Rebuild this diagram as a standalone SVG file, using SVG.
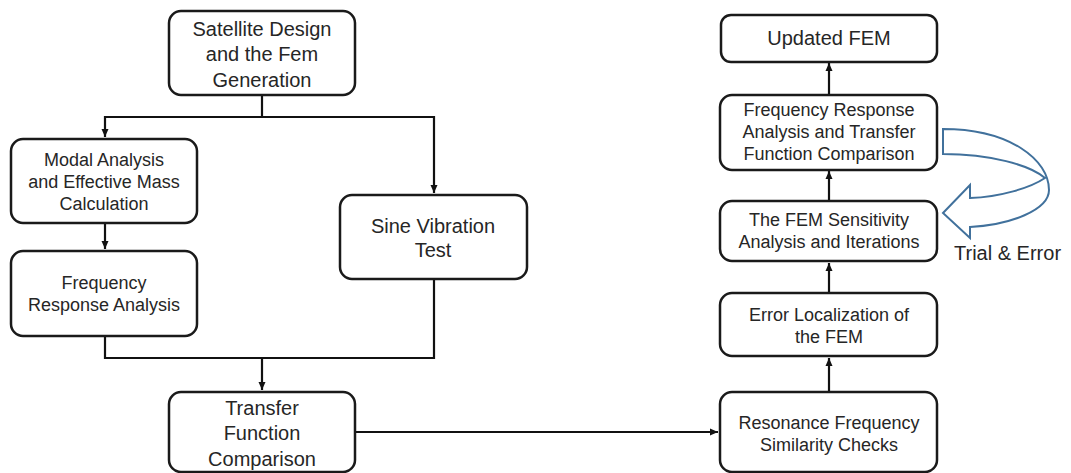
<svg xmlns="http://www.w3.org/2000/svg" width="1071" height="473" viewBox="0 0 1071 473">
<defs>
<marker id="ah" markerUnits="userSpaceOnUse" markerWidth="8" markerHeight="8" refX="8" refY="4" orient="auto">
<path d="M0,0.5 L8,4 L0,7.5 z" fill="#111"/>
</marker>
<style>
.box{fill:#fff;stroke:#1a1a1a;stroke-width:2.5}
.t{font-family:"Liberation Sans",Arial,sans-serif;fill:#262626;text-anchor:middle}
.l{font-size:20px}
.s{font-size:18px}
.c{fill:none;stroke:#111;stroke-width:2.2}
</style>
</defs>
<rect width="1071" height="473" fill="#fff"/>
<g id="connectors">
<polyline class="c" points="262,96 262,117 105,117 105,137" marker-end="url(#ah)"/>
<polyline class="c" points="262,117 434,117 434,193" marker-end="url(#ah)"/>
<line class="c" x1="105" y1="224" x2="105" y2="249" marker-end="url(#ah)"/>
<polyline class="c" points="105,337 105,358 434,358 434,280"/>
<line class="c" x1="262" y1="358" x2="262" y2="390" marker-end="url(#ah)"/>
<line class="c" x1="356" y1="432" x2="718" y2="432" marker-end="url(#ah)"/>
<line class="c" x1="829" y1="391" x2="829" y2="358" marker-end="url(#ah)"/>
<line class="c" x1="829" y1="292" x2="829" y2="263" marker-end="url(#ah)"/>
<line class="c" x1="829" y1="200" x2="829" y2="171" marker-end="url(#ah)"/>
<line class="c" x1="829" y1="94" x2="829" y2="63" marker-end="url(#ah)"/>
<path id="loop" d="M943,129 C1010,129 1049,160 1049,190 C1049,210 1010,225 970,227 L970,238 L943,213 L970,185 L970,198 C1000,197 1030,188 1045,178 C1030,165 990,154 943,154 Z" fill="none" stroke="#41719c" stroke-width="2"/>
</g>
<g id="n1"><rect class="box" x="169" y="11" width="186" height="84" rx="12"/>
<text class="t l" x="262" y="36">Satellite Design</text><text class="t l" x="262" y="61">and the Fem</text><text class="t l" x="262" y="87">Generation</text></g>
<g id="n2"><rect class="box" x="11" y="139" width="186" height="84" rx="12"/>
<text class="t s" x="104" y="166">Modal Analysis</text><text class="t s" x="104" y="188">and Effective Mass</text><text class="t s" x="104" y="210">Calculation</text></g>
<g id="n3"><rect class="box" x="11" y="251" width="186" height="85" rx="12"/>
<text class="t s" x="104" y="289">Frequency</text><text class="t s" x="104" y="311">Response Analysis</text></g>
<g id="n4"><rect class="box" x="340" y="195" width="187" height="84" rx="12"/>
<text class="t l" x="433" y="233">Sine Vibration</text><text class="t l" x="433" y="257">Test</text></g>
<g id="n5"><rect class="box" x="169" y="392" width="186" height="80" rx="12"/>
<text class="t l" x="262" y="415">Transfer</text><text class="t l" x="262" y="440">Function</text><text class="t l" x="262" y="466">Comparison</text></g>
<g id="n6"><rect class="box" x="721" y="15" width="216" height="47" rx="10"/>
<text class="t l" x="829" y="45">Updated FEM</text></g>
<g id="n7"><rect class="box" x="720" y="95" width="217" height="75" rx="12"/>
<text class="t s" x="829" y="116">Frequency Response</text><text class="t s" x="829" y="138">Analysis and Transfer</text><text class="t s" x="829" y="160">Function Comparison</text></g>
<g id="n8"><rect class="box" x="720" y="201" width="217" height="60" rx="12"/>
<text class="t s" x="829" y="226">The FEM Sensitivity</text><text class="t s" x="829" y="248">Analysis and Iterations</text></g>
<g id="n9"><rect class="box" x="720" y="293" width="217" height="63" rx="12"/>
<text class="t s" x="829" y="321">Error Localization of</text><text class="t s" x="829" y="343">the FEM</text></g>
<g id="n10"><rect class="box" x="720" y="392" width="217" height="80" rx="12"/>
<text class="t s" x="829" y="429">Resonance Frequency</text><text class="t s" x="829" y="451">Similarity Checks</text></g>
<text class="t l" x="954" y="260" style="text-anchor:start">Trial &amp; Error</text>
</svg>
